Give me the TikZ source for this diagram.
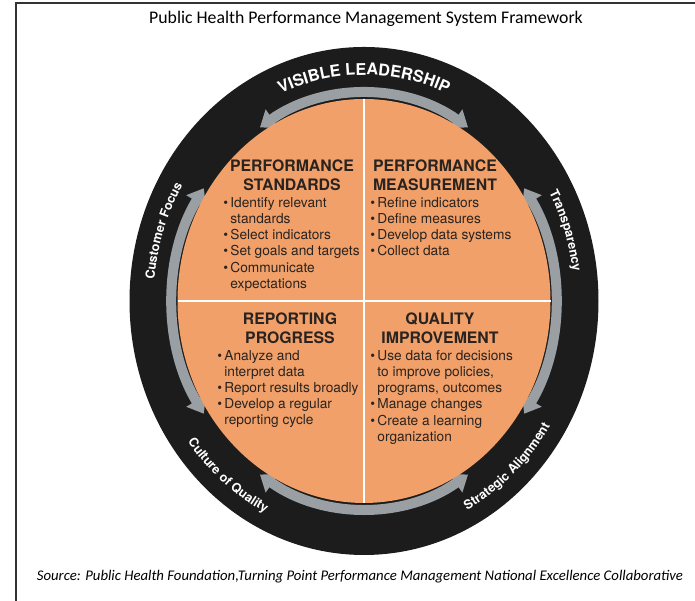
\documentclass[tikz,border=0pt]{standalone}
\usepackage{xcolor}
\usepackage{fontspec}
\usepackage{tikz}
\usetikzlibrary{arrows.meta, decorations.text}
\setmainfont{Carlito}
\newfontfamily\quadfont{TeX Gyre Heros}
\definecolor{ringblack}{HTML}{1C1C1C}
\definecolor{arcgray}{HTML}{9A9FA3}
\definecolor{discorange}{HTML}{F0A068}
\definecolor{inkdark}{HTML}{2A2320}
\newcommand{\bulitem}{\textbullet\,}
\newcommand{\bulcont}{\phantom{\textbullet\,}}
\newcommand{\ringbig}{\quadfont\bfseries\fontsize{9.2}{11}\selectfont\color{white}}
\newcommand{\ringsmall}{\quadfont\bfseries\fontsize{7.2}{8}\selectfont\color{white}}

\begin{document}
\begin{tikzpicture}[
    headtext/.style={align=center, inner sep=0pt, text=inkdark, font=\quadfont\bfseries\fontsize{9}{10.8}\selectfont},
    bultext/.style={align=left, inner sep=0pt, anchor=north west, text=inkdark, font=\quadfont\fontsize{7.8}{9.2}\selectfont},
    ringarc/.style={arcgray, line width=0.2cm, {Triangle[width=0.44cm,length=0.3cm]}-{Triangle[width=0.44cm,length=0.3cm]}}
]
    \useasboundingbox (0,0) rectangle (13.9,12.02);
    \coordinate (ctr) at (7.28,6.00);
    % Frame and title
    \draw[black!80, line width=1.2pt] (0.32,0) -- (0.32,11.96) -- (13.9,11.96);
    \node[font=\fontsize{10.1}{12}\selectfont] (title) at (7.32,11.64) {Public Health Performance Management System Framework};
    % Black outer ring
    \fill[ringblack] (ctr) ellipse [x radius=4.69, y radius=5.08];
    % Gray double arrows, one per side
    \foreach \a in {57,147,237,327} {
        \draw[ringarc] (ctr) ++(\a:3.82 and 4.14) arc[start angle=\a, delta angle=66, x radius=3.82, y radius=4.14];
    }
    % Orange disc and quadrant lines
    \fill[discorange] (ctr) ellipse [x radius=3.73, y radius=4.04];
    \draw[white, line width=0.8pt] (7.28,10.04) -- (7.28,1.96);
    \draw[white, line width=0.8pt] (3.55,6.00) -- (11.01,6.00);
    % Ring labels
    \path[decorate, decoration={text along path, text align=center, text={|\ringbig|VISIBLE LEADERSHIP}}]
        (ctr) ++(125:4.17 and 4.52) arc[start angle=125, end angle=55, x radius=4.17, y radius=4.52];
    \path[decorate, decoration={text along path, text align=center, text={|\ringsmall|Customer Focus}}]
        (ctr) ++(180:4.21 and 4.56) arc[start angle=180, end angle=144, x radius=4.21, y radius=4.56];
    \path[decorate, decoration={text along path, text align=center, text={|\ringsmall|Transparency}}]
        (ctr) ++(36:4.21 and 4.56) arc[start angle=36, end angle=0, x radius=4.21, y radius=4.56];
    \path[decorate, decoration={text along path, text align=center, text={|\ringsmall|Culture of Quality}}]
        (ctr) ++(208:4.38 and 4.74) arc[start angle=208, end angle=252, x radius=4.38, y radius=4.74];
    \path[decorate, decoration={text along path, text align=center, text={|\ringsmall|Strategic Alignment}}]
        (ctr) ++(291:4.38 and 4.74) arc[start angle=291, end angle=335, x radius=4.38, y radius=4.74];
    % Quadrant headings
    \node[headtext] (stdhead) at (5.84,8.52) {PERFORMANCE\\STANDARDS};
    \node[headtext] (meashead) at (8.70,8.51) {PERFORMANCE\\MEASUREMENT};
    \node[headtext] (rephead) at (5.80,5.45) {REPORTING\\PROGRESS};
    \node[headtext] (qualhead) at (8.80,5.45) {QUALITY\\IMPROVEMENT};
    % Quadrant bullet lists
    \node[bultext] (stdlist) at (4.46,8.08) {\bulitem Identify relevant\\\bulcont standards\\\bulitem Select indicators\\\bulitem Set goals and targets\\\bulitem Communicate\\\bulcont expectations};
    \node[bultext] (measlist) at (7.40,8.08) {\bulitem Refine indicators\\\bulitem Define measures\\\bulitem Develop data systems\\\bulitem Collect data};
    \node[bultext] (replist) at (4.34,5.02) {\bulitem Analyze and\\\bulcont interpret data\\\bulitem Report results broadly\\\bulitem Develop a regular\\\bulcont reporting cycle};
    \node[bultext] (quallist) at (7.40,5.02) {\bulitem Use data for decisions\\\bulcont to improve policies,\\\bulcont programs, outcomes\\\bulitem Manage changes\\\bulitem Create a learning\\\bulcont organization};
    % Source line
    \node[font=\itshape\fontsize{8.4}{10}\selectfont] (source) at (7.20,0.48) {Source: Public Health Foundation,Turning Point Performance Management National Excellence Collaborative};
\end{tikzpicture}
\end{document}
